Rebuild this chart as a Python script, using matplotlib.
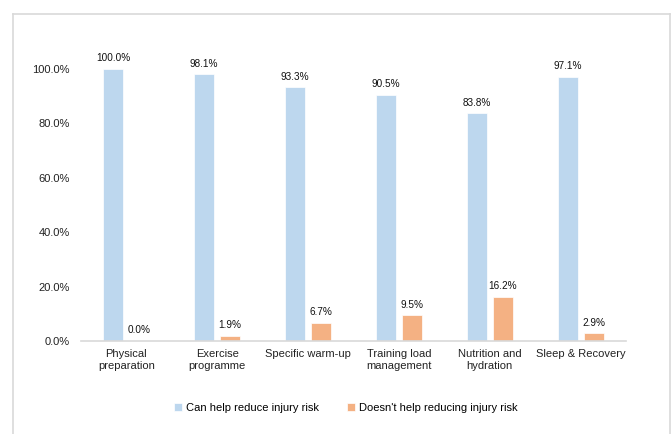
import matplotlib.pyplot as plt
import numpy as np

plt.rcParams['font.family'] = ['Liberation Sans', 'DejaVu Sans']

categories = ['Physical\npreparation', 'Exercise\nprogramme', 'Specific warm-up',
              'Training load\nmanagement', 'Nutrition and\nhydration', 'Sleep & Recovery']
helps = [100.0, 98.1, 93.3, 90.5, 83.8, 97.1]
not_helps = [0.0, 1.9, 6.7, 9.5, 16.2, 2.9]
series_names = ['Can help reduce injury risk', "Doesn't help reducing injury risk"]

blue = '#BDD7EE'
orange = '#F4B183'

fig = plt.figure(figsize=(6.72, 4.34), dpi=100, facecolor='white')
ax = fig.add_axes([0.1205, 0.2143, 0.811, 0.6267])

x = np.arange(len(categories))
w = 0.22
off = 0.143
b1 = ax.bar(x - off, np.array(helps) / 100, w, color=blue, edgecolor='white', linewidth=0.5, label=series_names[0])
b2 = ax.bar(x + off, np.array(not_helps) / 100, w, color=orange, edgecolor='white', linewidth=0.5, label=series_names[1])

for bars, vals in ((b1, helps), (b2, not_helps)):
	for rect, v in zip(bars, vals):
		ax.annotate('%.1f%%' % v, xy=(rect.get_x() + rect.get_width() / 2, rect.get_height()),
					xytext=(0, 4), textcoords='offset points', ha='center', va='bottom',
					fontsize=7.2, color='#111111', annotation_clip=False)

ax.set_xlim(-0.5, len(categories) - 0.5)
ax.set_ylim(0, 1.0)
ax.set_yticks([0, 0.2, 0.4, 0.6, 0.8, 1.0])
ax.set_yticklabels(['%.1f%%' % (t * 100) for t in [0, 0.2, 0.4, 0.6, 0.8, 1.0]])
ax.set_xticks(x)
ax.set_xticklabels(categories)
ax.tick_params(axis='both', length=0, labelsize=8, colors='#222222')
ax.tick_params(axis='y', pad=8)
ax.tick_params(axis='x', pad=6)
for s in ('top', 'right', 'left'):
	ax.spines[s].set_visible(False)
ax.spines['bottom'].set_color('#D9D9D9')
ax.spines['bottom'].set_linewidth(1.2)

fig.legend(loc='center', bbox_to_anchor=(0.515, 0.06), ncol=2, frameon=False, fontsize=8,
		   handlelength=0.7, handleheight=0.7, handletextpad=0.4, columnspacing=2.5)

# outer chart border (light gray)
fig.add_artist(plt.Line2D([13 / 672, 13 / 672], [0, 1 - 14 / 434], transform=fig.transFigure, color='#D9D9D9', lw=1.2))
fig.add_artist(plt.Line2D([13 / 672, 670 / 672], [1 - 14 / 434, 1 - 14 / 434], transform=fig.transFigure, color='#D9D9D9', lw=1.2))
fig.add_artist(plt.Line2D([670 / 672, 670 / 672], [0, 1 - 14 / 434], transform=fig.transFigure, color='#D9D9D9', lw=1.2))

fig.savefig('out.png', dpi=100, facecolor='white')
